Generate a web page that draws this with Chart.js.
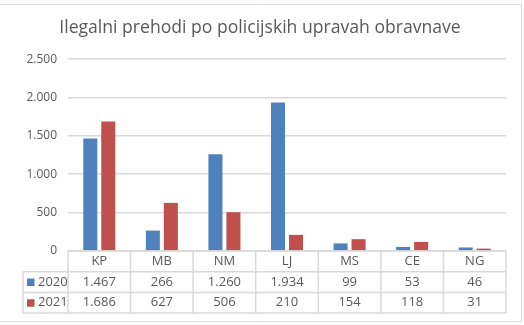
<!DOCTYPE html>
<html lang="sl">
<head>
  <meta charset="utf-8">
  <title>Ilegalni prehodi</title>
  <script src="https://cdn.jsdelivr.net/npm/chart.js@4.4.0/dist/chart.umd.min.js"></script>
  <style>
    html, body { margin: 0; padding: 0; background: #fff; }
    #holder { width: 524px; height: 325px; }
  </style>
</head>
<body>
<div id="holder"><canvas id="chart" width="524" height="325"></canvas></div>
<script>
  // data
  const categories = ['KP', 'MB', 'NM', 'LJ', 'MS', 'CE', 'NG'];
  const seriesNames = ['2020', '2021'];
  const values2020 = [1467, 266, 1260, 1934, 99, 53, 46];
  const values2021 = [1686, 627, 506, 210, 154, 118, 31];

  const BLUE = '#4f81bd';
  const RED = '#c0504d';
  const GRID = '#d9d9d9';
  const TEXT = '#595959';

  // 1467 -> "1.467"
  function fmt(v) {
    return String(v).replace(/\B(?=(\d{3})+(?!\d))/g, '.');
  }

  Chart.defaults.font.family = "'Open Sans', sans-serif";
  Chart.defaults.color = TEXT;

  // outer frame of the chart object
  const framePlugin = {
    id: 'frame',
    beforeDraw(chart) {
      const ctx = chart.ctx;
      ctx.save();
      ctx.fillStyle = '#fff';
      ctx.fillRect(0, 0, chart.width, chart.height);
      ctx.strokeStyle = GRID;
      ctx.lineWidth = 1;
      ctx.beginPath();
      ctx.moveTo(0, 4.5); ctx.lineTo(521.5, 4.5);
      ctx.lineTo(521.5, 321.5); ctx.lineTo(0, 321.5);
      ctx.stroke();
      ctx.restore();
    }
  };

  // data table under the plot, laid out on the x scale
  const tablePlugin = {
    id: 'dataTable',
    afterDraw(chart) {
      const ctx = chart.ctx;
      const area = chart.chartArea;
      const x = chart.scales.x;
      const n = categories.length;
      const colW = (area.right - area.left) / n;
      const rowH = 20.7;
      const top = area.bottom;
      const legendLeft = 23;
      const rows = [values2020, values2021];
      const colors = [BLUE, RED];

      ctx.save();
      ctx.strokeStyle = GRID;
      ctx.lineWidth = 1.5;
      ctx.beginPath();
      // horizontal lines
      ctx.moveTo(area.left, top); ctx.lineTo(area.right, top);
      for (let r = 1; r <= rows.length + 1; r++) {
        const y = top + r * rowH;
        ctx.moveTo(legendLeft, y); ctx.lineTo(area.right, y);
      }
      // vertical lines
      for (let c = 0; c <= n; c++) {
        const xx = area.left + c * colW;
        ctx.moveTo(xx, top); ctx.lineTo(xx, top + (rows.length + 1) * rowH);
      }
      ctx.moveTo(legendLeft, top + rowH); ctx.lineTo(legendLeft, top + (rows.length + 1) * rowH);
      ctx.stroke();

      ctx.fillStyle = TEXT;
      ctx.font = "13px 'Open Sans', sans-serif";
      ctx.textAlign = 'center';
      ctx.textBaseline = 'middle';
      categories.forEach((c, i) => {
        ctx.fillText(c, x.getPixelForValue(i), top + rowH / 2);
      });
      rows.forEach((vals, r) => {
        const cy = top + (r + 1) * rowH + rowH / 2;
        vals.forEach((v, i) => {
          ctx.fillText(fmt(v), x.getPixelForValue(i), cy);
        });
        // legend key
        ctx.fillStyle = colors[r];
        ctx.fillRect(27, cy - 3.5, 7.5, 7.5);
        ctx.fillStyle = TEXT;
        ctx.textAlign = 'left';
        ctx.fillText(seriesNames[r], 38, cy);
        ctx.textAlign = 'center';
      });
      ctx.restore();
    }
  };

  const config = {
    type: 'bar',
    data: {
      labels: categories,
      datasets: [
        { label: seriesNames[0], data: values2020, backgroundColor: BLUE },
        { label: seriesNames[1], data: values2021, backgroundColor: RED }
      ]
    },
    options: {
      responsive: false,
      animation: false,
      categoryPercentage: 0.575,
      barPercentage: 0.78,
      layout: {
        padding: { top: 4, right: 18, bottom: 74, left: 14 }
      },
      plugins: {
        legend: { display: false },
        tooltip: { enabled: false },
        title: {
          display: true,
          text: 'Ilegalni prehodi po policijskih upravah obravnave',
          color: TEXT,
          font: { size: 17.6, weight: 'normal' },
          padding: { top: 13.5, bottom: 20.5 }
        }
      },
      scales: {
        x: { display: false },
        y: {
          min: 0,
          max: 2500,
          afterFit(scale) { scale.width = 54; },
          border: { display: false },
          grid: { color: GRID, lineWidth: 1.5, drawTicks: false },
          ticks: {
            stepSize: 500,
            padding: 11,
            color: TEXT,
            font: { size: 12 },
            callback: (v) => fmt(v)
          }
        }
      }
    },
    plugins: [framePlugin, tablePlugin]
  };

  new Chart(document.getElementById('chart'), config);
</script>
</body>
</html>
